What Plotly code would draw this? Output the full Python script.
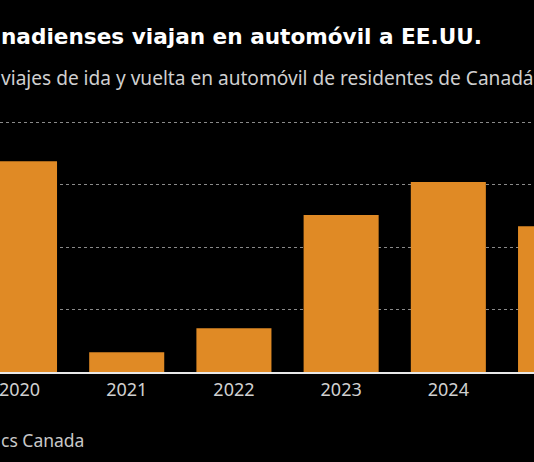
import plotly.graph_objects as go

years = ["2020", "2021", "2022", "2023", "2024", "2025"]
trips = [1.69, 0.158, 0.351, 1.258, 1.522, 1.169]  # millions (estimated)
grid_vals = [0.5, 1.0, 1.5, 2.0]

title_text = "nadienses viajan en automóvil a EE.UU."
subtitle_text = "viajes de ida y vuelta en automóvil de residentes de Canadá"
source_text = "cs Canada"

W, H = 534, 462
top, bottom = 110, 371.7
ph = bottom - top

def py(p):
    return (bottom - p) / ph

fig = go.Figure(go.Bar(x=years, y=trips, marker=dict(color="#e08a25", line=dict(width=0))))

fig.update_layout(
    width=W, height=H,
    margin=dict(l=0, r=0, t=top, b=H - bottom, pad=0),
    paper_bgcolor="#000000", plot_bgcolor="#000000",
    bargap=0.30, showlegend=False,
    font=dict(family="Noto Sans", color="#cfcfcf", size=18),
)
fig.update_xaxes(
    type="category", range=[-0.182, 4.799],
    showgrid=False, showline=True, linecolor="#e8e8e8", linewidth=2,
    ticks="", tickfont=dict(size=18, color="#d0d0d0"),
)
fig.update_yaxes(
    range=[0, 2.1], tickvals=grid_vals, showticklabels=False,
    showgrid=True, gridcolor="#8a8a8a", griddash="dot", gridwidth=1,
    zeroline=False,
)
fig.add_annotation(text="<b>" + title_text + "</b>", xref="paper", yref="paper",
                   x=0, y=py(36.5), xanchor="left", yanchor="middle", borderpad=0,
                   showarrow=False, font=dict(size=21.6, color="#ffffff", family="DejaVu Sans"))
fig.add_annotation(text=subtitle_text, xref="paper", yref="paper",
                   x=0, y=py(78.5), xanchor="left", yanchor="middle", borderpad=0,
                   showarrow=False, font=dict(size=19.1, color="#d0d0d0", family="Noto Sans"))
fig.add_annotation(text=source_text, xref="paper", yref="paper",
                   x=0, y=py(440), xanchor="left", yanchor="middle", borderpad=0,
                   showarrow=False, font=dict(size=17.5, color="#c8c8c8", family="Noto Sans"))

fig.write_html("out.html")
